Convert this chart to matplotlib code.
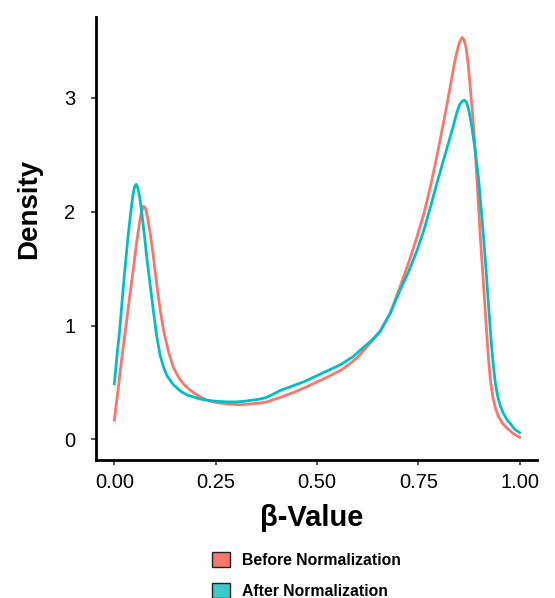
import numpy as np
from matplotlib import pyplot as plt
from matplotlib.patches import Patch

plt.rcParams['font.family'] = ['Liberation Sans', 'DejaVu Sans']

# density curves
before_x = [0.000, 0.010, 0.018, 0.026, 0.036, 0.047, 0.055, 0.062, 0.067, 0.072,
            0.077, 0.082, 0.088, 0.096, 0.104, 0.113, 0.122, 0.133, 0.145, 0.158,
            0.170, 0.185, 0.200, 0.215, 0.228, 0.245, 0.260, 0.285, 0.310, 0.330,
            0.345, 0.360, 0.376, 0.393, 0.410, 0.440, 0.470, 0.500, 0.530, 0.560,
            0.582, 0.600, 0.615, 0.635, 0.656, 0.681, 0.705, 0.727, 0.747, 0.765,
            0.780, 0.792, 0.804, 0.817, 0.829, 0.838, 0.845, 0.851, 0.858, 0.863,
            0.868, 0.873, 0.878, 0.885, 0.891, 0.897, 0.903, 0.908, 0.913, 0.918,
            0.923, 0.928, 0.934, 0.940, 0.948, 0.958, 0.969, 0.985, 1.000]
before_y = [0.17, 0.46, 0.70, 0.92, 1.20, 1.50, 1.73, 1.90, 2.00, 2.05,
            2.03, 1.95, 1.82, 1.62, 1.38, 1.14, 0.95, 0.78, 0.64, 0.55,
            0.49, 0.44, 0.40, 0.37, 0.345, 0.33, 0.32, 0.31, 0.305, 0.31,
            0.315, 0.32, 0.33, 0.35, 0.37, 0.41, 0.455, 0.505, 0.555, 0.61,
            0.667, 0.72, 0.78, 0.86, 0.95, 1.11, 1.34, 1.56, 1.78, 2.00,
            2.22, 2.42, 2.63, 2.87, 3.10, 3.28, 3.40, 3.48, 3.53, 3.51,
            3.44, 3.30, 3.10, 2.82, 2.51, 2.15, 1.78, 1.52, 1.25, 0.98,
            0.72, 0.52, 0.37, 0.28, 0.20, 0.14, 0.10, 0.05, 0.02]

after_x = [0.000, 0.007, 0.014, 0.020, 0.026, 0.033, 0.040, 0.046, 0.050, 0.054,
           0.058, 0.063, 0.068, 0.074, 0.080, 0.088, 0.096, 0.104, 0.113, 0.122,
           0.130, 0.146, 0.165, 0.180, 0.212, 0.240, 0.261, 0.280, 0.302, 0.320,
           0.340, 0.360, 0.376, 0.393, 0.409, 0.440, 0.470, 0.500, 0.530, 0.560,
           0.590, 0.615, 0.635, 0.656, 0.681, 0.705, 0.727, 0.747, 0.765, 0.780,
           0.796, 0.812, 0.825, 0.837, 0.845, 0.852, 0.858, 0.864, 0.869, 0.874,
           0.878, 0.882, 0.890, 0.899, 0.907, 0.915, 0.920, 0.925, 0.930, 0.935,
           0.940, 0.946, 0.952, 0.960, 0.968, 0.977, 0.988, 1.000]
after_y = [0.49, 0.75, 0.99, 1.25, 1.49, 1.75, 1.98, 2.15, 2.22, 2.24,
           2.21, 2.12, 1.98, 1.80, 1.60, 1.37, 1.14, 0.92, 0.74, 0.63,
           0.56, 0.48, 0.42, 0.39, 0.355, 0.34, 0.333, 0.33, 0.33, 0.335,
           0.345, 0.355, 0.37, 0.40, 0.43, 0.47, 0.51, 0.56, 0.61, 0.66,
           0.73, 0.81, 0.87, 0.95, 1.11, 1.31, 1.48, 1.66, 1.85, 2.04,
           2.25, 2.45, 2.61, 2.76, 2.87, 2.94, 2.97, 2.98, 2.96, 2.90,
           2.83, 2.75, 2.55, 2.28, 1.95, 1.60, 1.35, 1.10, 0.86, 0.66,
           0.50, 0.38, 0.30, 0.23, 0.18, 0.14, 0.09, 0.06]

series_names = ['Before Normalization', 'After Normalization']
series_colors = ['#F8766D', '#00BFC4']
legend_fills = ['#F7766E', '#3EC8CA']
x_ticks = [0.00, 0.25, 0.50, 0.75, 1.00]
y_ticks = [0, 1, 2, 3]

fig = plt.figure(figsize=(5.55, 5.98), dpi=100)
ax = fig.add_axes([0.1724, 0.2308, 0.7952, 0.7408])

ax.plot(before_x, before_y, color=series_colors[0], lw=2.0)
ax.plot(after_x, after_y, color=series_colors[1], lw=2.0)

ax.set_xlim(-0.046, 1.043)
ax.set_ylim(-0.18, 3.71)
ax.set_xticks(x_ticks)
ax.set_xticklabels([f'{t:.2f}' for t in x_ticks])
ax.set_yticks(y_ticks)
ax.set_yticklabels([str(t) for t in y_ticks])

for s in ['top', 'right']:
    ax.spines[s].set_visible(False)
for s in ['left', 'bottom']:
    ax.spines[s].set_linewidth(2.0)
    ax.spines[s].set_color('black')

ax.tick_params(axis='both', length=3.5, width=1.2, color='#333333',
               labelsize=14.5, labelcolor='black')
ax.tick_params(axis='y', pad=11)
ax.tick_params(axis='x', pad=6)

ax.set_xlabel('β-Value', fontsize=21, fontweight='bold')
ax.set_ylabel('Density', fontsize=20, fontweight='bold')
ax.xaxis.set_label_coords(0.489, -0.10)
ax.yaxis.set_label_coords(-0.122, 0.567)

handles = [Patch(facecolor=c, edgecolor='#222222', linewidth=1.0)
           for c in legend_fills]
fig.legend(handles, series_names, loc='upper left',
           bbox_to_anchor=(206 / 555, 1 - 546 / 598), frameon=False,
           prop={'size': 11.3, 'weight': 'bold'}, handlelength=1.1, handleheight=1.1,
           labelspacing=0.95, handletextpad=0.8, borderaxespad=0)

plt.savefig('out.png', dpi=100)
